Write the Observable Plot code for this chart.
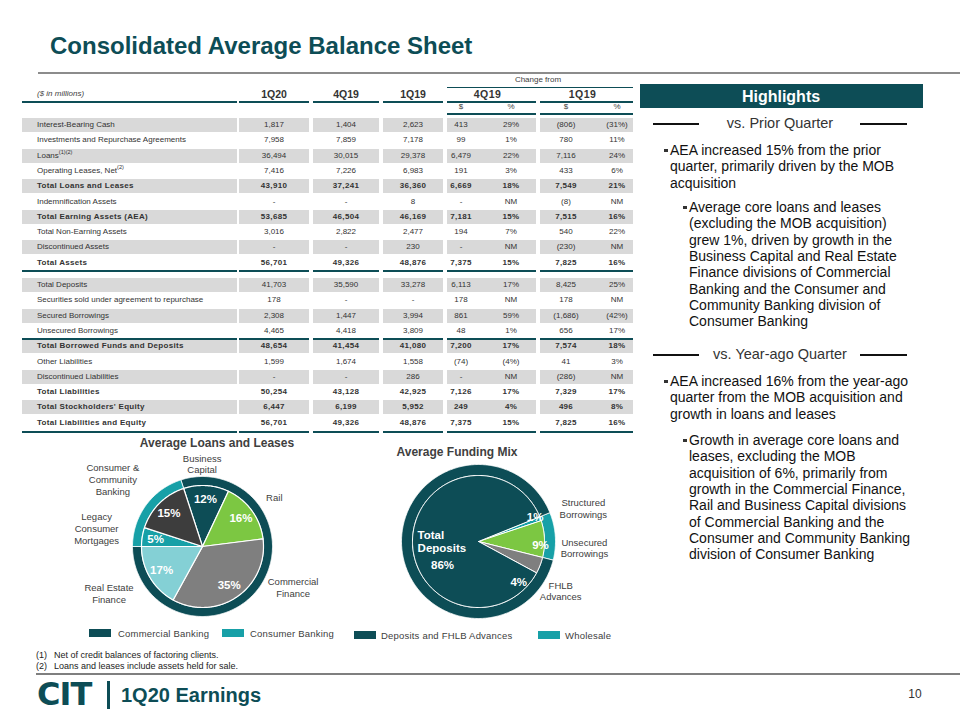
<!DOCTYPE html>
<html><head><meta charset="utf-8">
<script src="https://cdn.jsdelivr.net/npm/d3@7"></script>
<script src="https://cdn.jsdelivr.net/npm/@observablehq/plot@0.6"></script>
<style>
html,body{margin:0;padding:0;background:#fff;}
#page{position:relative;width:960px;height:720px;overflow:hidden;font-family:"Liberation Sans",Arial,sans-serif;color:#404040;}
.t{position:absolute;white-space:nowrap;line-height:1;}
.r{position:absolute;}
.plot{position:absolute;}
sup{font-size:70%;vertical-align:top;position:relative;top:-2px;}
</style></head><body><div id="page"></div>
<script>
// ---------------- DATA ----------------
const rowLabels = ["Interest-Bearing Cash","Investments and Repurchase Agreements","Loans","Operating Leases, Net","Total Loans and Leases","Indemnification Assets","Total Earning Assets (AEA)","Total Non-Earning Assets","Discontinued Assets","Total Assets",
  "Total Deposits","Securities sold under agreement to repurchase","Secured Borrowings","Unsecured Borrowings","Total Borrowed Funds and Deposits","Other Liabilities","Discontinued Liabilities","Total Liabilities","Total Stockholders' Equity","Total Liabilities and Equity"];
const rowNotes = {"Loans":"(1)(2)","Operating Leases, Net":"(2)"};
const totalRows = ["Total Loans and Leases","Total Earning Assets (AEA)","Total Assets","Total Borrowed Funds and Deposits","Total Liabilities","Total Stockholders' Equity","Total Liabilities and Equity"];
const periodHeaders = ["1Q20","4Q19","1Q19"];
const changeHeaders = ["4Q19","1Q19"];
const q1_20 = ["1,817","7,958","36,494","7,416","43,910","-","53,685","3,016","-","56,701","41,703","178","2,308","4,465","48,654","1,599","-","50,254","6,447","56,701"];
const q4_19 = ["1,404","7,859","30,015","7,226","37,241","-","46,504","2,822","-","49,326","35,590","-","1,447","4,418","41,454","1,674","-","43,128","6,199","49,326"];
const q1_19 = ["2,623","7,178","29,378","6,983","36,360","8","46,169","2,477","230","48,876","33,278","-","3,994","3,809","41,080","1,558","286","42,925","5,952","48,876"];
const chgQDollar = ["413","99","6,479","191","6,669","-","7,181","194","-","7,375","6,113","178","861","48","7,200","(74)","-","7,126","249","7,375"];
const chgQPct = ["29%","1%","22%","3%","18%","NM","15%","7%","NM","15%","17%","NM","59%","1%","17%","(4%)","NM","17%","4%","15%"];
const chgYDollar = ["(806)","780","7,116","433","7,549","(8)","7,515","540","(230)","7,825","8,425","178","(1,686)","656","7,574","41","(286)","7,329","496","7,825"];
const chgYPct = ["(31%)","11%","24%","6%","21%","NM","16%","22%","NM","16%","25%","NM","(42%)","17%","18%","3%","NM","17%","8%","16%"];

const loanSegments = ["Business\nCapital","Rail","Commercial\nFinance","Real Estate\nFinance","Legacy\nConsumer\nMortgages","Consumer &\nCommunity\nBanking"];
const loanShares = [12,16,35,17,5,15];
const loanGroups = ["Commercial Banking","Consumer Banking"];
const loanGroupShares = [80,20];

const fundingSegments = ["Structured\nBorrowings","Unsecured\nBorrowings","FHLB\nAdvances","Total\nDeposits"];
const fundingShares = [1,9,4,86];
const fundingGroups = ["Wholesale","Deposits and FHLB Advances"];
const fundingGroupShares = [10,90];

const highlights1 = [["AEA increased 15% from the prior","quarter, primarily driven by the MOB","acquisition"],
  ["Average core loans and leases","(excluding the MOB acquisition)","grew 1%, driven by growth in the","Business Capital and Real Estate","Finance divisions of Commercial","Banking and the Consumer and","Community Banking division of","Consumer Banking"]];
const highlights2 = [["AEA increased 16% from the year-ago","quarter from the MOB acquisition and","growth in loans and leases"],
  ["Growth in average core loans and","leases, excluding the MOB","acquisition of 6%, primarily from","growth in the Commercial Finance,","Rail and Business Capital divisions","of Commercial Banking and the","Consumer and Community Banking","division of Consumer Banking"]];
const footnotes = ["Net of credit balances of factoring clients.","Loans and leases include assets held for sale."];

// ---------------- STYLE ----------------
const TEAL = "#0d4d56", TEAL2 = "#17a0a7", LTEAL = "#84d0d5", GREEN = "#7cc742", GRAY = "#7f7f7f", DGRAY = "#3d3d3d", STRIPE = "#d9d9d9";
const page = document.getElementById("page");
function text(str, x, y, o = {}) {
  const d = document.createElement("div");
  d.className = "t";
  if (o.html) d.innerHTML = str; else d.textContent = str;
  d.style.fontSize = (o.size || 9) + "px";
  d.style.left = x + "px"; d.style.top = y + "px";
  const tx = o.align === "center" ? "-50%" : o.align === "right" ? "-100%" : "0";
  d.style.transform = `translate(${tx},-50%)`;
  if (o.bold) d.style.fontWeight = "bold";
  if (o.italic) d.style.fontStyle = "italic";
  if (o.color) d.style.color = o.color;
  if (o.ls != null) d.style.letterSpacing = o.ls + "px";
  if (o.family) d.style.fontFamily = o.family;
  page.appendChild(d); return d;
}
function rect(x, y, w, h, color) {
  const d = document.createElement("div");
  d.className = "r";
  Object.assign(d.style, {left: x + "px", top: y + "px", width: w + "px", height: h + "px", background: color});
  page.appendChild(d); return d;
}
const C = "center";

// title
text("Consolidated Average Balance Sheet", 50, 46, {size: 24, bold: true, color: TEAL});
rect(38, 72, 922, 1.5, "#8c8c8c");

// ---------------- TABLE ----------------
const colSegs = [[22,237],[239,309],[313,379],[383,443],[447,536],[540,633]];
const valueX = [274,346,413,461,511,566,617];
const rowStep = 15.3, bandH = 14, sec1Y = 125, sec2Y = 285;
const rowY = i => i < 10 ? sec1Y + i * rowStep : sec2Y + (i - 10) * rowStep;
const hline = (y, segs) => segs.forEach(([a, b]) => rect(a, y, b - a, 1.5, TEAL));

text("Change from", 538, 80, {size: 8, align: C});
hline(86.5, [[447,633]]);
text("($ in millions)", 37, 94, {size: 8, italic: true});
periodHeaders.forEach((h, i) => text(h, valueX[i], 94, {size: 10.5, bold: true, color: "#333", align: C}));
changeHeaders.forEach((h, i) => text(h, (colSegs[4 + i][0] + colSegs[4 + i][1]) / 2 - 4, 94, {size: 10.5, bold: true, color: "#333", ls: 0.5, align: C}));
hline(101, colSegs);
["$","%","$","%"].forEach((h, i) => text(h, valueX[3 + i], 107, {size: 8, align: C}));
hline(113, colSegs.slice(4));

const cols = [q1_20, q4_19, q1_19, chgQDollar, chgQPct, chgYDollar, chgYPct];
rowLabels.forEach((lab, i) => {
  const y = rowY(i);
  if ((i % 10) % 2 === 0) colSegs.forEach(([a, b]) => rect(a, y - bandH / 2, b - a, bandH, STRIPE));
  const bold = totalRows.includes(lab);
  const note = rowNotes[lab] ? `<sup>${rowNotes[lab]}</sup>` : "";
  text(lab.replace(/'/g, "&#39;") + note, 37, y, {size: 8, bold, html: true, ls: bold ? 0.3 : 0, color: "#333"});
  cols.forEach((c, j) => text(c[i], valueX[j], y, {size: 8, bold, ls: bold ? 0.3 : 0, color: "#333", align: C}));
});
hline(270, colSegs);
hline(338, colSegs);
hline(431, colSegs);

// ---------------- HIGHLIGHTS ----------------
rect(640, 84, 283, 24, TEAL);
text("Highlights", 781, 96.5, {size: 16, bold: true, color: "#fff", align: C});
function heading(str, y) {
  text(str, 780, y, {size: 14.5, color: "#333", align: C});
  rect(653, y, 46, 1.6, "#111");
  rect(860, y, 47, 1.6, "#111");
}
function bullets(blocks, y0, y1) {
  const lh = 16.3;
  [[664, 670, y0, blocks[0]], [683, 689, y1, blocks[1]]].forEach(([bx, tx, y, lines]) => {
    rect(bx, y - 1.5, 3.5, 3.5, "#333");
    lines.forEach((l, k) => text(l, tx, y + k * lh, {size: 14, color: "#111"}));
  });
}
heading("vs. Prior Quarter", 123);
bullets(highlights1, 150, 207);
heading("vs. Year-ago Quarter", 354);
bullets(highlights2, 381, 440);

// ---------------- PIES ----------------
const rad = d => d * Math.PI / 180;
function arcPts(a0, a1, r0, r1) {
  const n = Math.max(2, Math.ceil(Math.abs(a1 - a0)));
  const pts = [];
  if (r0 === 0) pts.push({x: 0, y: 0});
  for (let i = 0; i <= n; i++) { const a = rad(a0 + (a1 - a0) * i / n); pts.push({x: r1 * Math.sin(a), y: -r1 * Math.cos(a)}); }
  if (r0 === 0) pts.push({x: 0, y: 0});
  else { for (let i = n; i >= 0; i--) { const a = rad(a0 + (a1 - a0) * i / n); pts.push({x: r0 * Math.sin(a), y: -r0 * Math.cos(a)}); } pts.push(pts[0]); }
  return pts;
}
function angles(shares, start) {
  const total = d3.sum(shares); let a = start;
  return shares.map(v => { const a0 = a; a += v / total * 360; return [a0, a, (a0 + a) / 2]; });
}
const polar = (deg, r, dx = 0, dy = 0) => ({x: r * Math.sin(rad(deg)) + dx, y: -r * Math.cos(rad(deg)) + dy});

function piePlot({left, top, width, height, cx, cy, marks}) {
  const svg = Plot.plot({
    width, height, margin: 0,
    x: {domain: [-cx, width - cx], axis: null},
    y: {domain: [-cy, height - cy], range: [0, height], axis: null},
    style: {background: "transparent", fontFamily: "Liberation Sans, Arial, sans-serif", overflow: "visible"},
    marks
  });
  svg.classList.add("plot");
  svg.style.left = left + "px"; svg.style.top = top + "px";
  page.appendChild(svg);
}

// Loans pie
{
  const start = -18, R = 70, r = 61;
  const ring = angles(loanGroupShares, start);
  const sl = angles(loanShares, start);
  const colors = [TEAL, GREEN, GRAY, LTEAL, TEAL2, DGRAY];
  const ringColors = [TEAL, TEAL2];
  const extNudge = [[-6,7],[-1,4],[40,-34],[-16,1],[-17,-4],[-26,-4]];
  const ext = loanSegments.map((s, i) => ({t: s, ...polar(sl[i][2], 90, ...extNudge[i])}));
  const pct = loanShares.map((v, i) => ({t: v + "%", ...polar(sl[i][2], 47.5)}));
  piePlot({left: 60, top: 450, width: 290, height: 180, cx: 142, cy: 96, marks: [
    ...ring.map(([a0, a1], i) => Plot.line(arcPts(a0, a1, r, R), {x: "x", y: "y", fill: ringColors[i], stroke: "#fff", strokeWidth: 0.8})),
    ...sl.map(([a0, a1], i) => Plot.line(arcPts(a0, a1, 0, r), {x: "x", y: "y", fill: colors[i], stroke: "#fff", strokeWidth: 1.2})),
    Plot.text(pct, {x: "x", y: "y", text: "t", fill: "#fff", fontSize: 11.5, fontWeight: "bold"}),
    Plot.text(ext, {x: "x", y: "y", text: "t", fill: "#404040", fontSize: 9.5, lineHeight: 1.25})
  ]});
  text("Average Loans and Leases", 217, 443, {size: 12, bold: true, color: "#404040", align: C});
  const leg = [[89, 118], [222, 250]];
  loanGroups.forEach((g, i) => { rect(leg[i][0], 629, 22, 8, ringColors[i]); text(g, leg[i][1], 633.5, {size: 9.5, ls: 0.2}); });
}

// Funding pie
{
  const start = 68, R = 77, r = 66;
  const ring = angles(fundingGroupShares, start);
  const sl = angles(fundingShares, start);
  const colors = [TEAL2, GREEN, GRAY, TEAL];
  const ringColors = [TEAL2, TEAL];
  const extNudge = [[11,1],[6,10],[-11,13]];
  const ext = fundingSegments.slice(0, 3).map((s, i) => ({t: s, ...polar(sl[i][2], 100, ...extNudge[i])}));
  const inNudge = [[4,-5],[6,6],[-12,21]];
  const pct = fundingShares.slice(0, 3).map((v, i) => ({t: v + "%", ...polar(sl[i][2], 56, ...inNudge[i])}));
  const dep = [{t: fundingSegments[3], ...polar(sl[3][2], 56, -5, 3)}];
  const depPct = [{t: fundingShares[3] + "%", ...polar(sl[3][2], 56, 20, 27)}];
  piePlot({left: 340, top: 450, width: 300, height: 180, cx: 138, cy: 91, marks: [
    ...ring.map(([a0, a1], i) => Plot.line(arcPts(a0, a1, r, R), {x: "x", y: "y", fill: ringColors[i], stroke: "#fff", strokeWidth: 0.8})),
    ...sl.map(([a0, a1], i) => Plot.line(arcPts(a0, a1, 0, r), {x: "x", y: "y", fill: colors[i], stroke: "#fff", strokeWidth: 1})),
    Plot.text(pct, {x: "x", y: "y", text: "t", fill: "#fff", fontSize: 11.5, fontWeight: "bold"}),
    Plot.text(dep, {x: "x", y: "y", text: "t", fill: "#fff", fontSize: 11.5, fontWeight: "bold", textAnchor: "start", lineHeight: 1.15}),
    Plot.text(depPct, {x: "x", y: "y", text: "t", fill: "#fff", fontSize: 11.5, fontWeight: "bold"}),
    Plot.text(ext, {x: "x", y: "y", text: "t", fill: "#404040", fontSize: 9.5, lineHeight: 1.25})
  ]});
  text("Average Funding Mix", 457, 452, {size: 12, bold: true, color: "#404040", align: C});
  const order = [1, 0];
  const leg = [[354, 381], [538, 565]];
  order.forEach((gi, k) => { rect(leg[k][0], 631, 22, 8, ringColors[gi]); text(fundingGroups[gi], leg[k][1], 635.5, {size: 9.5, ls: 0.2}); });
}

// ---------------- FOOTER ----------------
footnotes.forEach((f, i) => { text(`(${i + 1})`, 36, 655 + i * 11, {size: 9, color: "#222"}); text(f, 54, 655 + i * 11, {size: 9, color: "#222"}); });
rect(36, 673, 924, 1.5, "#7f7f7f");
text("CIT", 37, 694, {size: 32, bold: true, color: TEAL, family: "DejaVu Sans", ls: -1});
rect(107, 681, 3, 28, TEAL);
text("1Q20 Earnings", 121, 695, {size: 20, bold: true, color: TEAL});
text("10", 915, 694, {size: 12, align: C, color: "#333"});
</script></body></html>
